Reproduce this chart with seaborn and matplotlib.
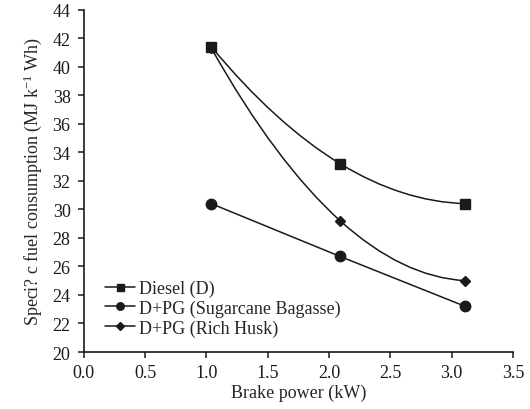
import numpy as np
import pandas as pd
import seaborn as sns
import matplotlib.pyplot as plt
from matplotlib.path import Path
from matplotlib.patches import PathPatch
from matplotlib.lines import Line2D

# data
power = [1.04, 2.09, 3.11]
diesel = [41.4, 33.2, 30.4]
sugarcane = [30.4, 26.7, 23.2]
rice_husk = [41.3, 29.2, 25.0]
series_names = ['Diesel (D)', 'D+PG (Sugarcane Bagasse)', 'D+PG (Rich Husk)']
x_ticks = [0.0, 0.5, 1.0, 1.5, 2.0, 2.5, 3.0, 3.5]
y_ticks = [20, 22, 24, 26, 28, 30, 32, 34, 36, 38, 40, 42, 44]

INK = '#1a1a1a'


def smooth_path(x, y):
    """ smooth curve through the points (quadratic, as bezier pieces) """
    c = np.polyfit(x, y, 2)
    d = np.polyder(c)
    verts = [(x[0], y[0])]
    codes = [Path.MOVETO]
    for i in range(len(x) - 1):
        h = x[i + 1] - x[i]
        verts.append((x[i] + h / 2, y[i] + np.polyval(d, x[i]) * h / 2))
        verts.append((x[i + 1], y[i + 1]))
        codes += [Path.CURVE3, Path.CURVE3]
    return Path(verts, codes)


sns.set_style("ticks")
plt.rcParams['font.family'] = ['Liberation Serif', 'DejaVu Serif']
plt.rcParams['mathtext.fontset'] = 'custom'
plt.rcParams['mathtext.rm'] = 'Liberation Serif'
plt.rcParams['mathtext.it'] = 'Liberation Serif:italic'
plt.rcParams['font.size'] = 13

fig, ax = plt.subplots(figsize=(5.3, 4.1), dpi=100)
fig.subplots_adjust(left=0.158, right=0.968, bottom=0.139, top=0.974)

df = pd.DataFrame({'power': power * 3,
                   'sfc': diesel + sugarcane + rice_husk,
                   'series': np.repeat(series_names, len(power))})

# curved lines for diesel and rice husk, straight for sugarcane
for vals in (diesel, rice_husk):
    ax.add_patch(PathPatch(smooth_path(power, vals), fill=False,
                           edgecolor=INK, lw=1.1, zorder=2))
sns.lineplot(data=df[df['series'] == series_names[1]], x='power', y='sfc',
             color=INK, lw=1.1, ax=ax, zorder=2, legend=False)

markers = {series_names[0]: ('s', 7), series_names[1]: ('o', 7.5),
           series_names[2]: ('D', 5.5)}
order = [series_names[2], series_names[1], series_names[0]]
for name in order:
    m, s = markers[name]
    sub = df[df['series'] == name]
    ax.plot(sub['power'], sub['sfc'], ls='', marker=m, ms=s,
            color=INK, zorder=3)

# legend markers are drawn smaller than in the plot
handles = [Line2D([], [], color=INK, lw=1.1, marker=markers[n][0],
                  ms=markers[n][1] * 0.72) for n in series_names]
ax.legend(handles, series_names, loc='center left',
          bbox_to_anchor=(0.049, 0.128), frameon=False, borderpad=0,
          borderaxespad=0, handlelength=1.7, handletextpad=0.2,
          labelspacing=0.14, fontsize=13)

ax.set_xlim(0, 3.5)
ax.set_ylim(20, 44)
ax.set_xticks(x_ticks)
ax.set_xticklabels([f'{t:.1f}' for t in x_ticks])
ax.set_yticks(y_ticks)
ax.set_xlabel('Brake power (kW)', labelpad=2)
ax.set_ylabel('Speci? c fuel consumption (MJ k$^{\\mathrm{-1}}$ Wh)',
              labelpad=6)
sns.despine(ax=ax)
for sp in ('left', 'bottom'):
    ax.spines[sp].set_linewidth(1.2)
    ax.spines[sp].set_color(INK)
ax.tick_params(axis='both', direction='out', length=4.5, width=1.1,
               color=INK, labelcolor=INK, labelsize=13)
ax.tick_params(axis='y', pad=5)
ax.tick_params(axis='x', pad=4)

fig.savefig('out.png', dpi=100)
